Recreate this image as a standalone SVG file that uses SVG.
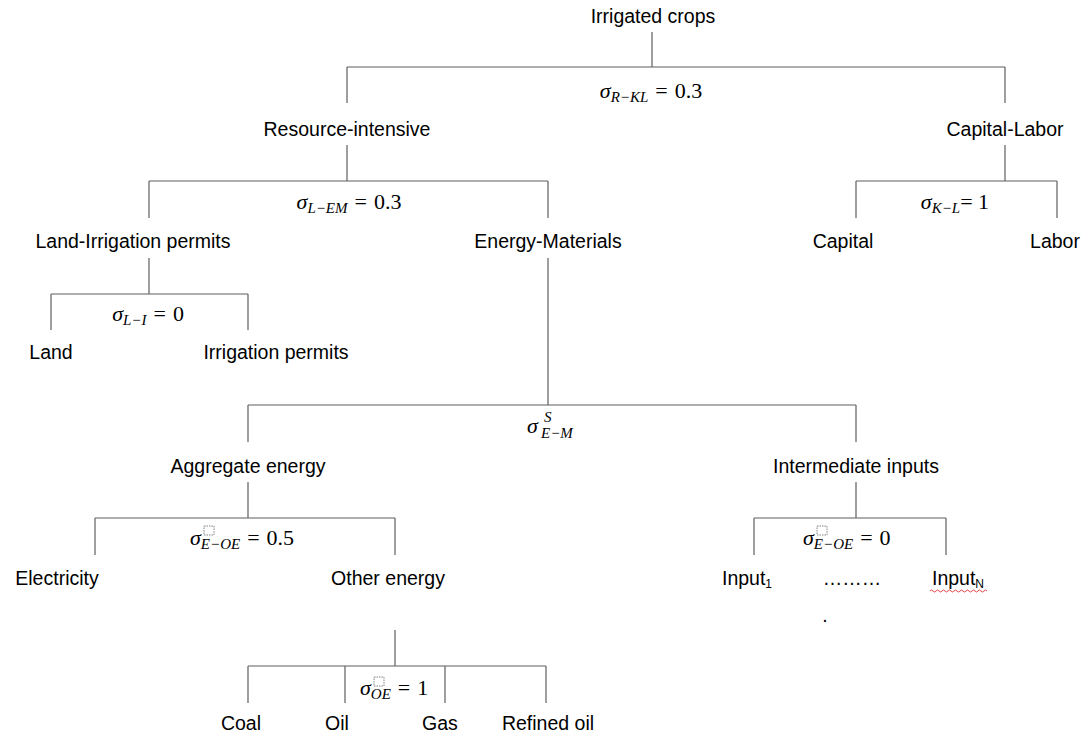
<svg xmlns="http://www.w3.org/2000/svg" width="1084" height="735" viewBox="0 0 1084 735">
<style>
.lbl{font-family:"Liberation Sans",Arial,sans-serif;font-size:19.5px;fill:#000;text-anchor:middle}
.m{font-family:"Liberation Serif","DejaVu Serif",serif;font-size:22px;fill:#000}
.mi{font-style:italic}
.sb{font-style:italic;font-size:15px}
.ph{fill:none;stroke:#666;stroke-width:0.8;stroke-dasharray:1.5 1}
.conn path{fill:none;stroke:#5f5f5f;stroke-width:1.2}
</style>
<rect width="1084" height="735" fill="#fff"/>
<g id="connectors" class="conn">
<path d="M652 32V67M347 67H1005M347 67V103M1005 67V103"/>
<path d="M347 145V181M149 181H548M149 181V218M548 181V218"/>
<path d="M1005 145V181M856 181H1057M856 181V218M1057 181V218"/>
<path d="M149 258V294M51 294H248M51 294V330M248 294V330"/>
<path d="M548 258V405M248 405H856M248 405V442M856 405V442"/>
<path d="M248 482V518M95 518H395M95 518V555M395 518V555"/>
<path d="M856 482V518M754 518H946M754 518V555M946 518V555"/>
<path d="M395 630V666M248 666H546M248 666V703M345 666V703M445 666V703M546 666V703"/>
</g>
<g id="irrigated-crops"><text class="lbl" x="653" y="23">Irrigated crops</text></g>
<g id="sigma-r-kl"><text class="m" x="651" y="98" text-anchor="middle"><tspan class="mi">σ</tspan><tspan class="sb" dy="4">R−KL</tspan><tspan dy="-4" dx="7">=</tspan><tspan dx="7">0.3</tspan></text></g>
<g id="resource-intensive"><text class="lbl" x="347" y="136">Resource-intensive</text></g>
<g id="capital-labor"><text class="lbl" x="1005" y="136">Capital-Labor</text></g>
<g id="sigma-l-em"><text class="m" x="349" y="209" text-anchor="middle"><tspan class="mi">σ</tspan><tspan class="sb" dy="4">L−EM</tspan><tspan dy="-4" dx="7">=</tspan><tspan dx="7">0.3</tspan></text></g>
<g id="sigma-k-l"><text class="m" x="955" y="209" text-anchor="middle"><tspan class="mi">σ</tspan><tspan class="sb" dy="4">K−L</tspan><tspan dy="-4">= 1</tspan></text></g>
<g id="land-irrigation-permits"><text class="lbl" x="133" y="248">Land-Irrigation permits</text></g>
<g id="energy-materials"><text class="lbl" x="548" y="248">Energy-Materials</text></g>
<g id="capital"><text class="lbl" x="843" y="248">Capital</text></g>
<g id="labor"><text class="lbl" x="1055" y="248">Labor</text></g>
<g id="sigma-l-i"><text class="m" x="148" y="321" text-anchor="middle"><tspan class="mi">σ</tspan><tspan class="sb" dy="4">L−I</tspan><tspan dy="-4" dx="7">=</tspan><tspan dx="7">0</tspan></text></g>
<g id="land"><text class="lbl" x="51" y="359">Land</text></g>
<g id="irrigation-permits"><text class="lbl" x="276" y="359">Irrigation permits</text></g>
<g id="sigma-e-m"><text class="m" x="527" y="433"><tspan class="mi">σ</tspan><tspan class="sb" dy="5" x="541">E−M</tspan><tspan class="sb" x="544" y="422">S</tspan></text></g>
<g id="aggregate-energy"><text class="lbl" x="248" y="473">Aggregate energy</text></g>
<g id="intermediate-inputs"><text class="lbl" x="856" y="473">Intermediate inputs</text></g>
<g id="sigma-e-oe-1"><text class="m" x="190" y="545"><tspan class="mi">σ</tspan><tspan class="sb" dy="4">E−OE</tspan><tspan dy="-4" dx="7">=</tspan><tspan dx="7">0.5</tspan></text><rect class="ph" x="204" y="526" width="10" height="9"/></g>
<g id="electricity"><text class="lbl" x="57" y="585">Electricity</text></g>
<g id="other-energy"><text class="lbl" x="388" y="585">Other energy</text></g>
<g id="sigma-e-oe-2"><text class="m" x="803" y="545"><tspan class="mi">σ</tspan><tspan class="sb" dy="4">E−OE</tspan><tspan dy="-4" dx="7">=</tspan><tspan dx="7">0</tspan></text><rect class="ph" x="817" y="526" width="10" height="9"/></g>
<g id="input-1"><text class="lbl" x="747" y="585">Input<tspan font-size="12" dy="3">1</tspan></text></g>
<g id="ellipsis"><text class="lbl" x="852" y="585">………</text><text class="lbl" x="825" y="622">.</text></g>
<g id="input-n"><text class="lbl" x="958" y="585">Input<tspan font-size="12" dy="3">N</tspan></text><path d="M930 591q1.5-2 3 0t3 0t3 0t3 0t3 0t3 0t3 0t3 0t3 0t3 0t3 0t3 0t3 0t3 0t3 0t3 0t3 0t3 0t3 0" fill="none" stroke="#e03030" stroke-width="0.9"/></g>
<g id="sigma-oe"><text class="m" x="360" y="695"><tspan class="mi">σ</tspan><tspan class="sb" dy="4">OE</tspan><tspan dy="-4" dx="7">=</tspan><tspan dx="7">1</tspan></text><rect class="ph" x="374" y="677" width="10" height="9"/></g>
<g id="coal"><text class="lbl" x="241" y="730">Coal</text></g>
<g id="oil"><text class="lbl" x="337" y="730">Oil</text></g>
<g id="gas"><text class="lbl" x="440" y="730">Gas</text></g>
<g id="refined-oil"><text class="lbl" x="548" y="730">Refined oil</text></g>
</svg>
